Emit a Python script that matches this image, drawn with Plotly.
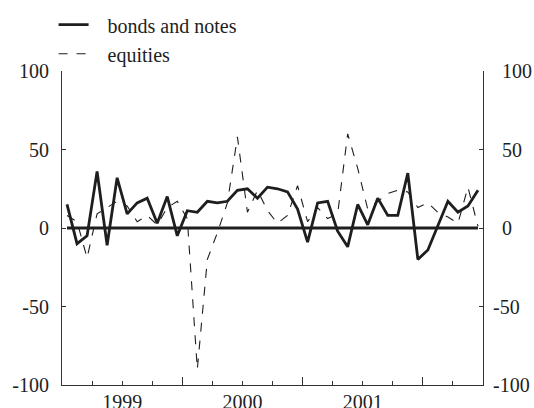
import plotly.graph_objects as go

# Monthly observations, Jan 1999 .. Jun 2002 (month index 0..41)
months = list(range(42))
year_labels = ["1999", "2000", "2001"]
year_label_pos = [6, 18, 30]      # middle of each year (months from Jan 1999)
year_bounds = [12, 24, 36]        # Jan 2000, Jan 2001, Jan 2002
y_ticks = [-100, -50, 0, 50, 100]
y_ticktext = ["-100", "-50", "0", "50", "100"]

bonds = [15, -10, -5, 36, -11, 32, 9, 16, 19, 3,
         20, -5, 11, 10, 17, 16, 17, 24, 25, 19,
         26, 25, 23, 12, -9, 16, 17, -2, -12, 15,
         2, 19, 8, 8, 35, -20, -14, 1, 17, 10,
         14, 24]

equities = [8, 4, -19, 9, 13, 17, 14, 4, 8, 2,
            13, 17, 6, -90, -20, -3, 16, 58, 10, 24,
            11, 3, 8, 27, 4, 13, 6, 9, 60, 38,
            12, 17, 22, 24, 23, 13, 16, 10, 7, 3,
            26, 1]

xm = [m + 0.5 for m in months]  # plotted at mid-month

INK = "#1e1e1e"
AX = "#333333"
FONT = "Liberation Serif, Times New Roman, serif"
PAD = "\u00a0\u00a0\u2009"
HANG = "\u00a0\u2009"   # lets the minus sign hang left on the right-hand axis
y_ticktext_right = [t if t.startswith("-") else HANG + t for t in y_ticktext]

fig = go.Figure()
fig.add_trace(go.Scatter(x=[xm[0], xm[-1]], y=[0, 0], mode="lines",
                         line=dict(color=INK, width=2.8),
                         showlegend=False, hoverinfo="skip"))
fig.add_trace(go.Scatter(x=xm, y=bonds, mode="lines", name=PAD + "bonds and notes",
                         line=dict(color=INK, width=2.8)))
fig.add_trace(go.Scatter(x=xm, y=equities, mode="lines", name=PAD + "equities",
                         line=dict(color=INK, width=1.1, dash="dash")))
# helper trace so the secondary axes render
fig.add_trace(go.Scatter(x=[None], y=[None], xaxis="x2", yaxis="y2",
                         showlegend=False, hoverinfo="skip"))

axis_common = dict(showgrid=False, zeroline=False, showline=True,
                   linecolor=AX, linewidth=1, tickcolor=AX,
                   tickfont=dict(family=FONT, size=20, color=INK))

fig.update_layout(
    width=534, height=408,
    margin=dict(l=62, r=51, t=71, b=23, autoexpand=False),
    paper_bgcolor="white", plot_bgcolor="white",
    font=dict(family=FONT, size=20, color=INK),
    xaxis=dict(range=[0, 42], tickmode="array", tickvals=year_label_pos,
               ticktext=year_labels, ticks="inside", ticklen=4,
               ticklabelstandoff=-1,
               minor=dict(tick0=0, dtick=3, ticks="inside", ticklen=4,
                          tickcolor=AX, showgrid=False),
               automargin=False, **axis_common),
    xaxis2=dict(range=[0, 42], overlaying="x", anchor="y", side="bottom",
                tickmode="array", tickvals=year_bounds, ticks="inside",
                ticklen=8, tickcolor=AX, showticklabels=False,
                showline=False, showgrid=False, zeroline=False),
    yaxis=dict(range=[-100, 100], tickmode="array", tickvals=y_ticks,
               ticktext=y_ticktext, ticks="inside", ticklen=4,
               ticklabelstandoff=8, automargin=False, **axis_common),
    yaxis2=dict(range=[-100, 100], overlaying="y", side="right", anchor="x",
                tickmode="array", tickvals=y_ticks, ticktext=y_ticktext_right,
                ticks="inside", ticklen=4, ticklabelstandoff=5,
                automargin=False, **axis_common),
    legend=dict(x=-0.02, y=1.2095, xanchor="left", yanchor="top",
                bgcolor="rgba(0,0,0,0)", itemwidth=30,
                font=dict(family=FONT, size=20, color=INK)),
    showlegend=True,
)

fig.write_html("out.html",
               config={"displayModeBar": False},
               post_script="document.body.style.margin='0';"
                           "document.body.style.overflow='hidden';")
